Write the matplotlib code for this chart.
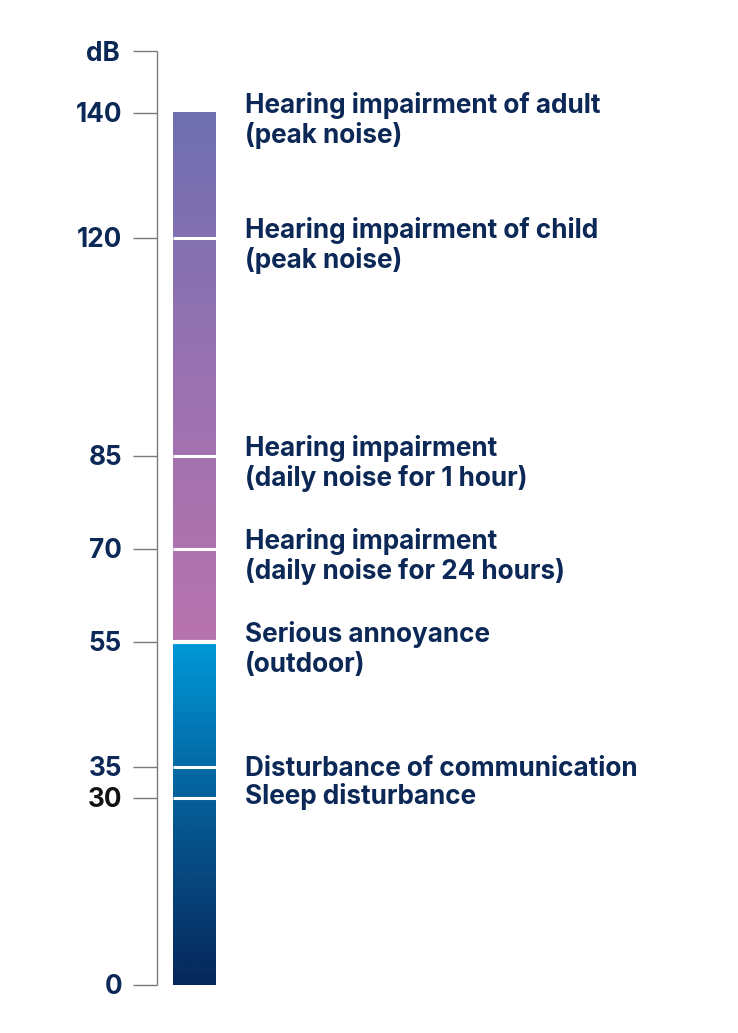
import matplotlib
matplotlib.use('Agg')
import matplotlib.pyplot as plt
import matplotlib.transforms as mtransforms
import numpy as np
from matplotlib.colors import LinearSegmentedColormap

# Datos del gráfico
niveles = [0, 30, 35, 55, 70, 85, 120, 140]
etiquetas_eje = ['0', '30', '35', '55', '70', '85', '120', '140']
unidad = 'dB'
limites = [30, 35, 55, 70, 85, 120]
descripciones = [
    (140, ['Hearing impairment of adult', '(peak noise)']),
    (120, ['Hearing impairment of child', '(peak noise)']),
    (85, ['Hearing impairment', '(daily noise for 1 hour)']),
    (70, ['Hearing impairment', '(daily noise for 24 hours)']),
    (55, ['Serious annoyance', '(outdoor)']),
    (35, ['Disturbance of communication']),
    (30, ['Sleep disturbance']),
]

NAVY = '#0b2856'
FONT = ['Inter', 'DejaVu Sans']
TAM = 18.8

fig = plt.figure(figsize=(7.38, 10.33), dpi=100)
ax = fig.add_axes([0, 0, 1, 1])
# escala: 0 dB en y=985 px, 140 dB en y=113 px
px_por_db = (985 - 113) / 140
ax.set_xlim(0, 738)
ax.set_ylim((985 - 1033) / px_por_db, 985 / px_por_db)
ax.axis('off')

def desplazar(dy):
    return mtransforms.offset_copy(ax.transData, fig=fig, x=0, y=dy, units='dots')

# eje vertical con marcas
y_tope = 150
ax.plot([157, 157], [0, y_tope], color='#7a7a7a', lw=1.0, solid_capstyle='butt')
for v in niveles + [y_tope]:
    ax.plot([133, 157], [v, v], color='#7a7a7a', lw=1.0, solid_capstyle='butt')
for v, t in zip(niveles, etiquetas_eje):
    color = '#111111' if t == '30' else NAVY
    ax.text(122, v, t, transform=desplazar(-9), ha='right', va='baseline',
            fontsize=TAM, fontweight='bold', color=color, family=FONT)
ax.text(120, y_tope, unidad, transform=desplazar(-10), ha='right', va='baseline',
        fontsize=TAM, fontweight='bold', color=NAVY, family=FONT)

# barra con degradados
cmap_morado = LinearSegmentedColormap.from_list('m', ['#b874ae', '#9a72b0', '#6e6fb1'])
cmap_azul = LinearSegmentedColormap.from_list('a', ['#06275a', '#065a94', '#0098d8'])
grad = np.linspace(0, 1, 256).reshape(-1, 1)
ax.imshow(grad, cmap=cmap_morado, origin='lower', aspect='auto',
          extent=[173, 216, 55, 140], interpolation='bilinear')
ax.imshow(grad, cmap=cmap_azul, origin='lower', aspect='auto',
          extent=[173, 216, 0, 55], interpolation='bilinear')
for v in limites:
    grosor = 3.0 if v == 55 else 2.2
    ax.plot([173, 216], [v, v], color='white', lw=grosor, solid_capstyle='butt')

# descripciones
for v, lineas in descripciones:
    if len(lineas) == 2:
        base = 0
    elif v == 35:
        base = -9
    else:
        base = -6
    for i, linea in enumerate(lineas):
        ax.text(245, v, linea, transform=desplazar(base - 30 * i), ha='left', va='baseline',
                fontsize=TAM, fontweight='bold', color=NAVY, family=FONT)

fig.savefig('out.png', dpi=100)
plt.close(fig)
